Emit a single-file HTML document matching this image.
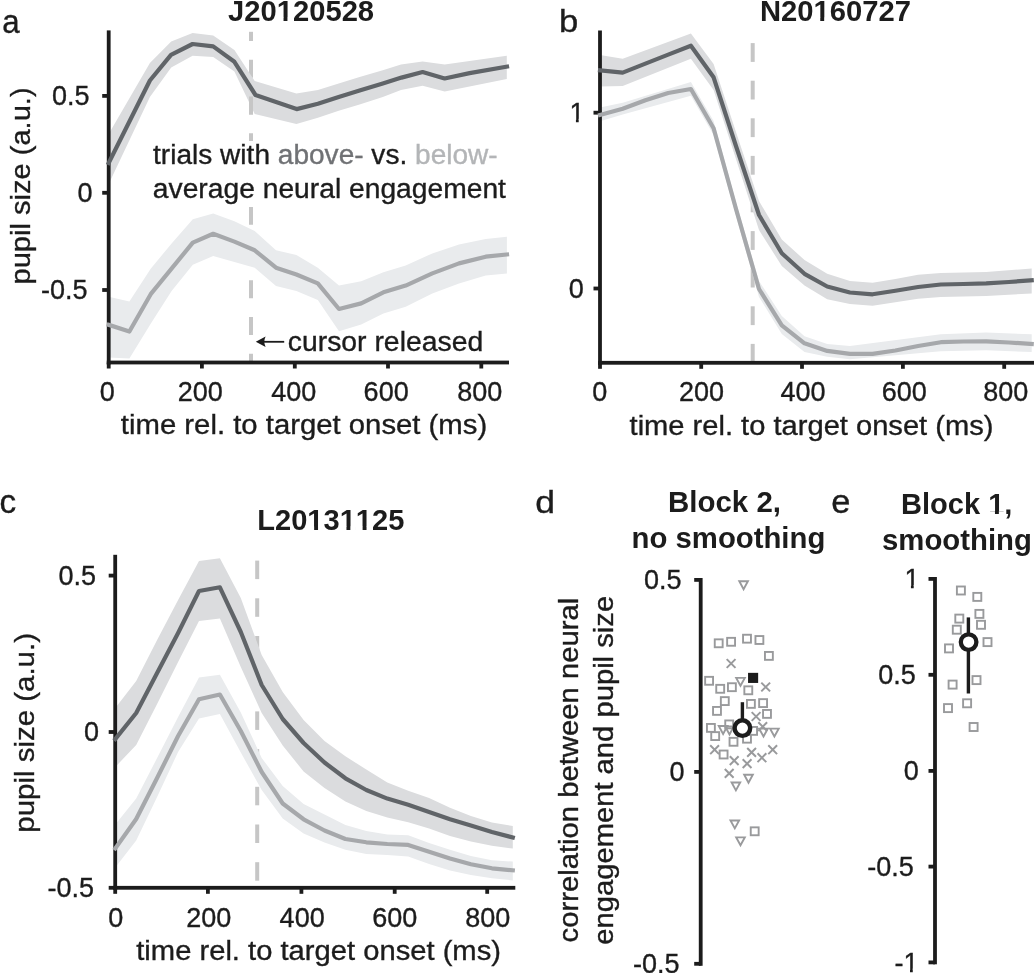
<!DOCTYPE html>
<html><head><meta charset="utf-8"><style>
html,body{margin:0;padding:0;background:#fff;}
svg{display:block;will-change:transform;filter:blur(0.4px);}
text{font-family:"Liberation Sans",sans-serif;font-kerning:none;}
</style></head><body>
<svg width="1034" height="973" viewBox="0 0 1034 973">
<rect width="1034" height="973" fill="#fff"/>
<rect x="249.00" y="31.80" width="4" height="9.20" fill="#c6c6c6"/>
<rect x="249.00" y="59.75" width="4" height="18.00" fill="#c6c6c6"/>
<rect x="249.00" y="96.50" width="4" height="18.00" fill="#c6c6c6"/>
<rect x="249.00" y="133.25" width="4" height="18.00" fill="#c6c6c6"/>
<rect x="249.00" y="206.75" width="4" height="18.00" fill="#c6c6c6"/>
<rect x="249.00" y="243.50" width="4" height="18.00" fill="#c6c6c6"/>
<rect x="249.00" y="280.25" width="4" height="18.00" fill="#c6c6c6"/>
<rect x="249.00" y="317.00" width="4" height="18.00" fill="#c6c6c6"/>
<rect x="249.00" y="353.75" width="4" height="8.25" fill="#c6c6c6"/>
<polygon points="108.7,134.0 149.9,62.9 171.2,41.6 192.6,33.0 213.2,35.6 234.4,50.1 254.7,81.1 296.4,93.4 317.9,89.9 338.7,83.5 359.6,77.1 382.8,70.2 401.0,64.4 422.6,61.5 444.7,64.4 506.8,55.7 506.8,78.9 444.7,91.6 422.6,85.8 401.0,89.9 382.8,96.9 359.6,104.4 338.7,110.8 317.9,117.8 296.4,124.1 254.7,114.0 234.4,71.4 213.2,57.0 192.6,55.8 171.2,67.5 149.9,97.0 108.7,184.0" fill="#dbdcde"/>
<polygon points="108.7,296.7 129.4,301.5 150.7,268.7 171.6,243.5 192.8,219.3 213.2,213.5 234.4,221.3 254.7,231.0 276.0,250.3 296.4,255.0 317.8,267.8 339.0,285.6 361.2,281.2 383.4,272.3 405.7,265.6 432.3,253.4 459.0,244.5 485.7,238.9 506.9,236.7 506.9,273.4 485.7,275.6 459.0,283.4 432.3,293.4 405.7,306.7 383.4,313.4 361.2,324.5 339.0,331.2 317.8,300.0 296.4,291.0 276.0,286.0 254.7,267.7 234.4,261.9 213.2,256.0 192.8,264.8 171.6,291.0 150.7,323.8 129.4,358.6 108.7,357.6" fill="#e9ebed"/>
<rect x="249" y="96.5" width="4" height="18" fill="#c6c6c6"/>
<rect x="150" y="141" width="360" height="66" fill="#fff"/>
<rect x="106.80" y="30.40" width="3.8" height="334.00" fill="#1c1c1c"/>
<rect x="102.20" y="94.00" width="6.50" height="3.8" fill="#1c1c1c"/>
<rect x="102.20" y="190.90" width="6.50" height="3.8" fill="#1c1c1c"/>
<rect x="102.20" y="288.10" width="6.50" height="3.8" fill="#1c1c1c"/>
<rect x="106.80" y="360.60" width="402.20" height="3.8" fill="#1c1c1c"/>
<rect x="106.80" y="362.50" width="3.8" height="6.00" fill="#1c1c1c"/>
<rect x="200.00" y="362.50" width="3.8" height="6.00" fill="#1c1c1c"/>
<rect x="292.90" y="362.50" width="3.8" height="6.00" fill="#1c1c1c"/>
<rect x="386.10" y="362.50" width="3.8" height="6.00" fill="#1c1c1c"/>
<rect x="479.40" y="362.50" width="3.8" height="6.00" fill="#1c1c1c"/>
<polyline points="108.7,163.0 149.9,80.5 171.0,54.8 192.6,44.0 213.2,46.4 234.4,61.8 255.5,95.0 296.6,109.1 317.9,103.8 338.7,96.9 359.6,90.5 382.8,83.5 401.5,77.6 422.6,72.0 444.6,78.5 469.6,73.1 507.0,66.6" fill="none" stroke="#606468" stroke-width="4.2" stroke-linejoin="round" stroke-linecap="square"/>
<polyline points="108.7,324.8 129.4,331.5 150.7,294.2 192.8,242.6 213.2,233.8 234.4,241.6 254.7,250.3 276.0,267.7 296.4,274.5 317.8,283.4 339.0,309.0 361.2,303.4 383.4,292.3 405.7,285.6 432.3,273.4 459.0,263.4 485.7,256.7 507.0,254.5" fill="none" stroke="#a6a8ab" stroke-width="4.2" stroke-linejoin="round" stroke-linecap="square"/>
<rect x="750.70" y="43.10" width="4" height="18.80" fill="#c6c6c6"/>
<rect x="750.70" y="80.70" width="4" height="18.80" fill="#c6c6c6"/>
<rect x="750.70" y="118.30" width="4" height="18.80" fill="#c6c6c6"/>
<rect x="750.70" y="155.90" width="4" height="18.80" fill="#c6c6c6"/>
<rect x="750.70" y="193.50" width="4" height="18.80" fill="#c6c6c6"/>
<rect x="750.70" y="231.10" width="4" height="18.80" fill="#c6c6c6"/>
<rect x="750.70" y="268.70" width="4" height="18.80" fill="#c6c6c6"/>
<rect x="750.70" y="306.30" width="4" height="18.80" fill="#c6c6c6"/>
<rect x="750.70" y="343.90" width="4" height="18.80" fill="#c6c6c6"/>
<polygon points="600.0,55.0 622.7,58.7 690.9,33.5 713.6,64.0 736.3,133.0 759.0,201.0 781.8,239.6 804.5,260.0 827.2,273.8 849.9,281.0 872.6,282.7 895.4,279.1 918.1,274.7 940.8,272.9 986.2,272.0 1031.7,268.5 1031.7,293.4 986.2,296.0 940.8,297.0 918.1,298.7 895.4,302.3 872.6,305.8 849.9,304.0 827.2,299.2 804.5,285.5 781.8,266.0 759.0,230.0 736.3,160.0 713.6,90.0 690.9,58.7 622.7,85.9 600.0,86.6" fill="#dbdcde"/>
<polygon points="600.0,107.4 622.7,102.8 690.9,81.9 713.6,121.0 736.3,203.0 759.0,281.0 781.8,316.0 804.5,336.3 827.2,344.0 849.9,345.9 940.8,334.3 986.2,332.5 1031.7,334.3 1031.7,352.1 986.2,350.3 940.8,351.2 849.9,359.2 827.2,356.8 804.5,351.9 781.8,334.0 759.0,297.0 736.3,217.0 713.6,135.0 690.9,95.8 622.7,114.4 600.0,121.3" fill="#e9ebed"/>
<rect x="598.10" y="30.50" width="3.8" height="334.20" fill="#1c1c1c"/>
<rect x="593.50" y="110.80" width="6.50" height="3.8" fill="#1c1c1c"/>
<rect x="593.50" y="286.60" width="6.50" height="3.8" fill="#1c1c1c"/>
<rect x="598.10" y="360.90" width="435.90" height="3.8" fill="#1c1c1c"/>
<rect x="598.10" y="362.80" width="3.8" height="6.00" fill="#1c1c1c"/>
<rect x="699.30" y="362.80" width="3.8" height="6.00" fill="#1c1c1c"/>
<rect x="800.10" y="362.80" width="3.8" height="6.00" fill="#1c1c1c"/>
<rect x="901.00" y="362.80" width="3.8" height="6.00" fill="#1c1c1c"/>
<rect x="1002.30" y="362.80" width="3.8" height="6.00" fill="#1c1c1c"/>
<polyline points="600.0,70.3 622.7,72.6 645.4,63.6 668.2,54.6 690.9,45.7 713.6,77.3 736.3,147.0 759.0,215.0 781.8,253.3 804.5,273.8 827.2,286.5 849.9,292.5 872.6,294.3 895.4,290.7 918.1,287.0 940.8,284.5 963.5,284.0 986.2,283.4 1009.0,282.0 1031.7,280.2" fill="none" stroke="#606468" stroke-width="4.2" stroke-linejoin="round" stroke-linecap="square"/>
<polyline points="600.0,115.0 622.7,108.8 645.4,100.2 668.2,93.0 690.9,89.0 713.6,128.2 736.3,210.0 759.0,289.0 781.8,325.3 804.5,343.3 827.2,350.9 849.9,353.9 872.6,353.9 895.4,350.5 918.1,346.0 940.8,342.2 963.5,341.5 986.2,341.4 1009.0,342.5 1031.7,344.0" fill="none" stroke="#a6a8ab" stroke-width="4.2" stroke-linejoin="round" stroke-linecap="square"/>
<rect x="255.20" y="560.60" width="4" height="18.50" fill="#c6c6c6"/>
<rect x="255.20" y="598.30" width="4" height="18.50" fill="#c6c6c6"/>
<rect x="255.20" y="636.00" width="4" height="18.50" fill="#c6c6c6"/>
<rect x="255.20" y="673.70" width="4" height="18.50" fill="#c6c6c6"/>
<rect x="255.20" y="711.40" width="4" height="18.50" fill="#c6c6c6"/>
<rect x="255.20" y="749.10" width="4" height="18.50" fill="#c6c6c6"/>
<rect x="255.20" y="786.80" width="4" height="18.50" fill="#c6c6c6"/>
<rect x="255.20" y="824.50" width="4" height="18.50" fill="#c6c6c6"/>
<rect x="255.20" y="862.20" width="4" height="18.50" fill="#c6c6c6"/>
<polygon points="115.3,708.0 136.2,681.0 157.1,640.0 178.1,600.0 199.0,561.0 219.9,558.3 240.8,598.0 261.7,655.0 282.7,692.0 303.6,720.0 324.5,741.0 345.4,756.2 366.3,769.6 387.3,782.5 408.2,790.8 429.1,798.0 450.0,807.8 470.9,815.9 491.9,822.6 512.8,826.0 512.8,848.5 491.9,845.8 470.9,841.6 450.0,836.0 429.1,828.6 408.2,822.2 387.3,817.6 366.3,811.0 345.4,801.5 324.5,788.0 303.6,771.5 282.7,745.5 261.7,713.0 240.8,667.0 219.9,618.5 199.0,621.0 178.1,662.0 157.1,704.0 136.2,745.0 115.3,767.0" fill="#dbdcde"/>
<polygon points="115.3,824.6 136.2,798.6 157.1,758.0 178.1,717.0 199.0,677.6 219.9,674.8 240.8,712.5 261.7,758.0 282.7,786.0 303.6,804.0 324.5,814.5 345.4,825.0 366.3,831.0 387.3,834.5 408.2,835.3 429.1,843.0 450.0,849.7 470.9,856.1 491.9,860.2 512.8,861.6 512.8,880.4 491.9,878.3 470.9,875.0 450.0,870.6 429.1,864.0 408.2,856.4 387.3,855.0 366.3,854.0 345.4,849.8 324.5,842.5 303.6,833.5 282.7,818.5 261.7,790.0 240.8,752.5 219.9,713.9 199.0,718.4 178.1,752.0 157.1,797.0 136.2,840.5 115.3,867.6" fill="#e9ebed"/>
<rect x="113.30" y="554.80" width="3.8" height="334.90" fill="#1c1c1c"/>
<rect x="108.70" y="573.70" width="6.50" height="3.8" fill="#1c1c1c"/>
<rect x="108.70" y="730.10" width="6.50" height="3.8" fill="#1c1c1c"/>
<rect x="108.70" y="885.90" width="6.50" height="3.8" fill="#1c1c1c"/>
<rect x="113.30" y="885.90" width="402.00" height="3.8" fill="#1c1c1c"/>
<rect x="113.30" y="887.80" width="3.8" height="6.00" fill="#1c1c1c"/>
<rect x="206.00" y="887.80" width="3.8" height="6.00" fill="#1c1c1c"/>
<rect x="299.50" y="887.80" width="3.8" height="6.00" fill="#1c1c1c"/>
<rect x="392.80" y="887.80" width="3.8" height="6.00" fill="#1c1c1c"/>
<rect x="485.30" y="887.80" width="3.8" height="6.00" fill="#1c1c1c"/>
<polyline points="115.3,739.0 136.2,713.0 157.1,673.0 178.1,633.0 199.0,591.0 219.9,587.3 240.8,632.0 261.7,685.0 282.7,719.0 303.6,743.0 324.5,762.5 345.4,778.3 366.3,790.0 387.3,798.6 408.2,804.7 429.1,811.9 450.0,819.2 470.9,825.4 491.9,832.0 512.8,837.5" fill="none" stroke="#606468" stroke-width="4.2" stroke-linejoin="round" stroke-linecap="square"/>
<polyline points="115.3,848.4 136.2,819.0 157.1,778.0 178.1,736.0 199.0,699.3 219.9,694.5 240.8,731.0 261.7,772.0 282.7,803.5 303.6,819.3 324.5,830.5 345.4,839.0 366.3,842.3 387.3,844.0 408.2,844.9 429.1,851.7 450.0,858.4 470.9,864.2 491.9,868.3 512.8,870.3" fill="none" stroke="#a6a8ab" stroke-width="4.2" stroke-linejoin="round" stroke-linecap="square"/>
<rect x="698.80" y="578.00" width="3.8" height="387.80" fill="#1c1c1c"/>
<rect x="694.20" y="578.00" width="6.50" height="3.8" fill="#1c1c1c"/>
<rect x="694.20" y="770.00" width="6.50" height="3.8" fill="#1c1c1c"/>
<rect x="694.20" y="961.90" width="6.50" height="3.8" fill="#1c1c1c"/>
<rect x="933.10" y="577.00" width="3.8" height="387.30" fill="#1c1c1c"/>
<rect x="928.50" y="577.00" width="6.50" height="3.8" fill="#1c1c1c"/>
<rect x="928.50" y="672.90" width="6.50" height="3.8" fill="#1c1c1c"/>
<rect x="928.50" y="769.00" width="6.50" height="3.8" fill="#1c1c1c"/>
<rect x="928.50" y="864.70" width="6.50" height="3.8" fill="#1c1c1c"/>
<rect x="928.50" y="960.50" width="6.50" height="3.8" fill="#1c1c1c"/>
<rect x="714.75" y="639.35" width="7.9" height="7.9" fill="none" stroke="#999a9c" stroke-width="1.9"/>
<rect x="727.15" y="637.85" width="7.9" height="7.9" fill="none" stroke="#999a9c" stroke-width="1.9"/>
<rect x="743.05" y="634.75" width="7.9" height="7.9" fill="none" stroke="#999a9c" stroke-width="1.9"/>
<rect x="755.45" y="636.05" width="7.9" height="7.9" fill="none" stroke="#999a9c" stroke-width="1.9"/>
<rect x="764.95" y="651.95" width="7.9" height="7.9" fill="none" stroke="#999a9c" stroke-width="1.9"/>
<rect x="705.15" y="676.85" width="7.9" height="7.9" fill="none" stroke="#999a9c" stroke-width="1.9"/>
<rect x="716.25" y="684.85" width="7.9" height="7.9" fill="none" stroke="#999a9c" stroke-width="1.9"/>
<rect x="727.95" y="683.25" width="7.9" height="7.9" fill="none" stroke="#999a9c" stroke-width="1.9"/>
<rect x="744.35" y="686.35" width="7.9" height="7.9" fill="none" stroke="#999a9c" stroke-width="1.9"/>
<rect x="720.85" y="697.15" width="7.9" height="7.9" fill="none" stroke="#999a9c" stroke-width="1.9"/>
<rect x="713.05" y="706.95" width="7.9" height="7.9" fill="none" stroke="#999a9c" stroke-width="1.9"/>
<rect x="746.95" y="699.95" width="7.9" height="7.9" fill="none" stroke="#999a9c" stroke-width="1.9"/>
<rect x="759.15" y="699.15" width="7.9" height="7.9" fill="none" stroke="#999a9c" stroke-width="1.9"/>
<rect x="763.05" y="709.95" width="7.9" height="7.9" fill="none" stroke="#999a9c" stroke-width="1.9"/>
<rect x="706.95" y="723.95" width="7.9" height="7.9" fill="none" stroke="#999a9c" stroke-width="1.9"/>
<rect x="725.25" y="720.45" width="7.9" height="7.9" fill="none" stroke="#999a9c" stroke-width="1.9"/>
<rect x="711.25" y="732.15" width="7.9" height="7.9" fill="none" stroke="#999a9c" stroke-width="1.9"/>
<rect x="729.55" y="737.85" width="7.9" height="7.9" fill="none" stroke="#999a9c" stroke-width="1.9"/>
<rect x="743.05" y="734.75" width="7.9" height="7.9" fill="none" stroke="#999a9c" stroke-width="1.9"/>
<rect x="749.15" y="726.95" width="7.9" height="7.9" fill="none" stroke="#999a9c" stroke-width="1.9"/>
<rect x="719.65" y="750.55" width="7.9" height="7.9" fill="none" stroke="#999a9c" stroke-width="1.9"/>
<rect x="750.75" y="827.35" width="7.9" height="7.9" fill="none" stroke="#999a9c" stroke-width="1.9"/>
<polygon points="739.30,581.25 747.90,581.25 743.60,589.15" fill="none" stroke="#999a9c" stroke-width="1.9" stroke-linejoin="miter"/>
<polygon points="736.20,677.85 744.80,677.85 740.50,685.75" fill="none" stroke="#999a9c" stroke-width="1.9" stroke-linejoin="miter"/>
<polygon points="718.80,726.05 727.40,726.05 723.10,733.95" fill="none" stroke="#999a9c" stroke-width="1.9" stroke-linejoin="miter"/>
<polygon points="725.20,726.55 733.80,726.55 729.50,734.45" fill="none" stroke="#999a9c" stroke-width="1.9" stroke-linejoin="miter"/>
<polygon points="759.20,728.65 767.80,728.65 763.50,736.55" fill="none" stroke="#999a9c" stroke-width="1.9" stroke-linejoin="miter"/>
<polygon points="770.10,728.65 778.70,728.65 774.40,736.55" fill="none" stroke="#999a9c" stroke-width="1.9" stroke-linejoin="miter"/>
<polygon points="744.20,774.75 752.80,774.75 748.50,782.65" fill="none" stroke="#999a9c" stroke-width="1.9" stroke-linejoin="miter"/>
<polygon points="731.60,782.45 740.20,782.45 735.90,790.35" fill="none" stroke="#999a9c" stroke-width="1.9" stroke-linejoin="miter"/>
<polygon points="730.50,820.45 739.10,820.45 734.80,828.35" fill="none" stroke="#999a9c" stroke-width="1.9" stroke-linejoin="miter"/>
<polygon points="736.20,837.35 744.80,837.35 740.50,845.25" fill="none" stroke="#999a9c" stroke-width="1.9" stroke-linejoin="miter"/>
<path d="M726.70,659.10L735.50,667.90M735.50,659.10L726.70,667.90" stroke="#999a9c" stroke-width="2.0" fill="none"/>
<path d="M761.30,682.60L770.10,691.40M770.10,682.60L761.30,691.40" stroke="#999a9c" stroke-width="2.0" fill="none"/>
<path d="M751.70,712.10L760.50,720.90M760.50,712.10L751.70,720.90" stroke="#999a9c" stroke-width="2.0" fill="none"/>
<path d="M758.30,722.20L767.10,731.00M767.10,722.20L758.30,731.00" stroke="#999a9c" stroke-width="2.0" fill="none"/>
<path d="M710.20,745.30L719.00,754.10M719.00,745.30L710.20,754.10" stroke="#999a9c" stroke-width="2.0" fill="none"/>
<path d="M747.20,748.00L756.00,756.80M756.00,748.00L747.20,756.80" stroke="#999a9c" stroke-width="2.0" fill="none"/>
<path d="M768.30,745.30L777.10,754.10M777.10,745.30L768.30,754.10" stroke="#999a9c" stroke-width="2.0" fill="none"/>
<path d="M729.80,756.20L738.60,765.00M738.60,756.20L729.80,765.00" stroke="#999a9c" stroke-width="2.0" fill="none"/>
<path d="M757.50,753.30L766.30,762.10M766.30,753.30L757.50,762.10" stroke="#999a9c" stroke-width="2.0" fill="none"/>
<path d="M742.70,759.20L751.50,768.00M751.50,759.20L742.70,768.00" stroke="#999a9c" stroke-width="2.0" fill="none"/>
<path d="M724.80,769.00L733.60,777.80M733.60,769.00L724.80,777.80" stroke="#999a9c" stroke-width="2.0" fill="none"/>
<rect x="749.00" y="673.80" width="8.2" height="8.2" fill="#1c1c1c" stroke="#1c1c1c" stroke-width="1.9"/>
<line x1="742.4" y1="702.2" x2="742.4" y2="735" stroke="#1c1c1c" stroke-width="3.4"/>
<circle cx="742.4" cy="728.1" r="7.8" fill="#fff" stroke="#1c1c1c" stroke-width="4.4"/>
<rect x="956.90" y="586.50" width="8.0" height="8.0" fill="none" stroke="#999a9c" stroke-width="1.9"/>
<rect x="973.30" y="592.90" width="8.0" height="8.0" fill="none" stroke="#999a9c" stroke-width="1.9"/>
<rect x="975.40" y="609.90" width="8.0" height="8.0" fill="none" stroke="#999a9c" stroke-width="1.9"/>
<rect x="955.30" y="614.60" width="8.0" height="8.0" fill="none" stroke="#999a9c" stroke-width="1.9"/>
<rect x="977.00" y="620.80" width="8.0" height="8.0" fill="none" stroke="#999a9c" stroke-width="1.9"/>
<rect x="952.80" y="625.70" width="8.0" height="8.0" fill="none" stroke="#999a9c" stroke-width="1.9"/>
<rect x="983.50" y="638.10" width="8.0" height="8.0" fill="none" stroke="#999a9c" stroke-width="1.9"/>
<rect x="945.00" y="644.40" width="8.0" height="8.0" fill="none" stroke="#999a9c" stroke-width="1.9"/>
<rect x="972.50" y="676.10" width="8.0" height="8.0" fill="none" stroke="#999a9c" stroke-width="1.9"/>
<rect x="948.60" y="680.60" width="8.0" height="8.0" fill="none" stroke="#999a9c" stroke-width="1.9"/>
<rect x="963.10" y="699.30" width="8.0" height="8.0" fill="none" stroke="#999a9c" stroke-width="1.9"/>
<rect x="944.00" y="704.10" width="8.0" height="8.0" fill="none" stroke="#999a9c" stroke-width="1.9"/>
<rect x="969.60" y="723.00" width="8.0" height="8.0" fill="none" stroke="#999a9c" stroke-width="1.9"/>
<line x1="968.4" y1="617.4" x2="968.4" y2="693.5" stroke="#1c1c1c" stroke-width="3.4"/>
<circle cx="968.6" cy="642.1" r="7.8" fill="#fff" stroke="#1c1c1c" stroke-width="4.3"/>
<text x="2.15" y="32.60" font-size="32.5" fill="#1c1c1c" stroke="#1c1c1c" stroke-width="0.35" textLength="17.39" lengthAdjust="spacingAndGlyphs">a</text>
<text x="558.95" y="32.30" font-size="31.5" fill="#1c1c1c" stroke="#1c1c1c" stroke-width="0.35" textLength="19.28" lengthAdjust="spacingAndGlyphs">b</text>
<text x="-0.53" y="513.40" font-size="32.5" fill="#1c1c1c" stroke="#1c1c1c" stroke-width="0.35" textLength="16.67" lengthAdjust="spacingAndGlyphs">c</text>
<text x="535.18" y="512.80" font-size="31.5" fill="#1c1c1c" stroke="#1c1c1c" stroke-width="0.35" textLength="19.77" lengthAdjust="spacingAndGlyphs">d</text>
<text x="831.22" y="513.40" font-size="32.5" fill="#1c1c1c" stroke="#1c1c1c" stroke-width="0.35" textLength="19.17" lengthAdjust="spacingAndGlyphs">e</text>
<text x="228.06" y="20.80" font-size="29" font-weight="bold" fill="#1c1c1c" stroke="#1c1c1c" stroke-width="0" textLength="146.03" lengthAdjust="spacingAndGlyphs">J20120528</text>
<text x="759.90" y="20.80" font-size="29" font-weight="bold" fill="#1c1c1c" stroke="#1c1c1c" stroke-width="0" textLength="151.01" lengthAdjust="spacingAndGlyphs">N20160727</text>
<text x="257.29" y="529.80" font-size="29" font-weight="bold" fill="#1c1c1c" stroke="#1c1c1c" stroke-width="0" textLength="147.05" lengthAdjust="spacingAndGlyphs">L20131125</text>
<text x="667.99" y="512.40" font-size="29" font-weight="bold" fill="#1c1c1c" stroke="#1c1c1c" stroke-width="0" textLength="112.98" lengthAdjust="spacingAndGlyphs">Block 2,</text>
<text x="631.60" y="547.60" font-size="29" font-weight="bold" fill="#1c1c1c" stroke="#1c1c1c" stroke-width="0" textLength="193.71" lengthAdjust="spacingAndGlyphs">no smoothing</text>
<text x="901.01" y="514.40" font-size="29" font-weight="bold" fill="#1c1c1c" stroke="#1c1c1c" stroke-width="0" textLength="111.42" lengthAdjust="spacingAndGlyphs">Block 1,</text>
<text x="882.07" y="549.60" font-size="29" font-weight="bold" fill="#1c1c1c" stroke="#1c1c1c" stroke-width="0" textLength="149.85" lengthAdjust="spacingAndGlyphs">smoothing</text>
<text x="153.08" y="164.40" font-size="27" fill="#1c1c1c" stroke="#1c1c1c" stroke-width="0.35" textLength="344.61" lengthAdjust="spacingAndGlyphs"><tspan fill="#1c1c1c" stroke="#1c1c1c">trials with </tspan><tspan fill="#707275" stroke="#707275">above-</tspan><tspan fill="#1c1c1c" stroke="#1c1c1c"> vs. </tspan><tspan fill="#b3b5b7" stroke="#b3b5b7">below-</tspan></text>
<text x="152.87" y="197.70" font-size="27" fill="#1c1c1c" stroke="#1c1c1c" stroke-width="0.35" textLength="353.10" lengthAdjust="spacingAndGlyphs">average neural engagement</text>
<text x="287.77" y="350.60" font-size="27" fill="#1c1c1c" stroke="#1c1c1c" stroke-width="0.35" textLength="195.44" lengthAdjust="spacingAndGlyphs">cursor released</text>
<path d="M284.2,341.8 L262,341.8" stroke="#1c1c1c" stroke-width="1.8"/>
<path d="M255.8,341.8 L265.6,336.6 Q263,341.8 265.6,347 Z" fill="#1c1c1c"/>
<text x="120.86" y="434.30" font-size="27" fill="#1c1c1c" stroke="#1c1c1c" stroke-width="0.35" textLength="366.32" lengthAdjust="spacingAndGlyphs">time rel. to target onset (ms)</text>
<text x="629.56" y="435.00" font-size="27" fill="#1c1c1c" stroke="#1c1c1c" stroke-width="0.35" textLength="363.90" lengthAdjust="spacingAndGlyphs">time rel. to target onset (ms)</text>
<text x="136.26" y="959.80" font-size="27" fill="#1c1c1c" stroke="#1c1c1c" stroke-width="0.35" textLength="364.71" lengthAdjust="spacingAndGlyphs">time rel. to target onset (ms)</text>
<text transform="translate(29.70,284.49) rotate(-90)" x="0" y="0" font-size="27" fill="#1c1c1c" stroke="#1c1c1c" stroke-width="0.35" textLength="197.06" lengthAdjust="spacingAndGlyphs">pupil size (a.u.)</text>
<text transform="translate(33.60,832.71) rotate(-90)" x="0" y="0" font-size="27" fill="#1c1c1c" stroke="#1c1c1c" stroke-width="0.35" textLength="199.71" lengthAdjust="spacingAndGlyphs">pupil size (a.u.)</text>
<text transform="translate(577.50,942.47) rotate(-90)" x="0" y="0" font-size="27" fill="#1c1c1c" stroke="#1c1c1c" stroke-width="0.35" textLength="344.69" lengthAdjust="spacingAndGlyphs">correlation between neural</text>
<text transform="translate(613.40,944.77) rotate(-90)" x="0" y="0" font-size="27" fill="#1c1c1c" stroke="#1c1c1c" stroke-width="0.35" textLength="348.88" lengthAdjust="spacingAndGlyphs">engagement and pupil size</text>
<text x="52.05" y="105.20" font-size="27" fill="#1c1c1c" stroke="#1c1c1c" stroke-width="0.35">0.5</text>
<text x="77.56" y="202.10" font-size="27" fill="#1c1c1c" stroke="#1c1c1c" stroke-width="0.35">0</text>
<text x="40.94" y="299.30" font-size="27" fill="#1c1c1c" stroke="#1c1c1c" stroke-width="0.35">-0.5</text>
<text x="99.64" y="400.70" font-size="27" fill="#1c1c1c" stroke="#1c1c1c" stroke-width="0.35">0</text>
<text x="177.72" y="400.70" font-size="27" fill="#1c1c1c" stroke="#1c1c1c" stroke-width="0.35">200</text>
<text x="271.23" y="400.70" font-size="27" fill="#1c1c1c" stroke="#1c1c1c" stroke-width="0.35">400</text>
<text x="363.62" y="400.70" font-size="27" fill="#1c1c1c" stroke="#1c1c1c" stroke-width="0.35">600</text>
<text x="457.19" y="400.70" font-size="27" fill="#1c1c1c" stroke="#1c1c1c" stroke-width="0.35">800</text>
<text x="569.40" y="122.00" font-size="27" fill="#1c1c1c" stroke="#1c1c1c" stroke-width="0.35">1</text>
<text x="568.86" y="297.80" font-size="27" fill="#1c1c1c" stroke="#1c1c1c" stroke-width="0.35">0</text>
<text x="592.24" y="400.70" font-size="27" fill="#1c1c1c" stroke="#1c1c1c" stroke-width="0.35">0</text>
<text x="679.02" y="400.70" font-size="27" fill="#1c1c1c" stroke="#1c1c1c" stroke-width="0.35">200</text>
<text x="780.43" y="400.70" font-size="27" fill="#1c1c1c" stroke="#1c1c1c" stroke-width="0.35">400</text>
<text x="881.82" y="400.70" font-size="27" fill="#1c1c1c" stroke="#1c1c1c" stroke-width="0.35">600</text>
<text x="983.19" y="400.70" font-size="27" fill="#1c1c1c" stroke="#1c1c1c" stroke-width="0.35">800</text>
<text x="58.55" y="584.90" font-size="27" fill="#1c1c1c" stroke="#1c1c1c" stroke-width="0.35">0.5</text>
<text x="84.06" y="741.30" font-size="27" fill="#1c1c1c" stroke="#1c1c1c" stroke-width="0.35">0</text>
<text x="47.44" y="897.10" font-size="27" fill="#1c1c1c" stroke="#1c1c1c" stroke-width="0.35">-0.5</text>
<text x="108.34" y="926.60" font-size="27" fill="#1c1c1c" stroke="#1c1c1c" stroke-width="0.35">0</text>
<text x="186.22" y="926.60" font-size="27" fill="#1c1c1c" stroke="#1c1c1c" stroke-width="0.35">200</text>
<text x="279.62" y="926.60" font-size="27" fill="#1c1c1c" stroke="#1c1c1c" stroke-width="0.35">400</text>
<text x="372.32" y="926.60" font-size="27" fill="#1c1c1c" stroke="#1c1c1c" stroke-width="0.35">600</text>
<text x="465.19" y="926.60" font-size="27" fill="#1c1c1c" stroke="#1c1c1c" stroke-width="0.35">800</text>
<text x="644.05" y="589.20" font-size="27" fill="#1c1c1c" stroke="#1c1c1c" stroke-width="0.35">0.5</text>
<text x="669.56" y="781.20" font-size="27" fill="#1c1c1c" stroke="#1c1c1c" stroke-width="0.35">0</text>
<text x="632.94" y="973.10" font-size="27" fill="#1c1c1c" stroke="#1c1c1c" stroke-width="0.35">-0.5</text>
<text x="904.40" y="588.20" font-size="27" fill="#1c1c1c" stroke="#1c1c1c" stroke-width="0.35">1</text>
<text x="878.35" y="684.10" font-size="27" fill="#1c1c1c" stroke="#1c1c1c" stroke-width="0.35">0.5</text>
<text x="903.86" y="780.20" font-size="27" fill="#1c1c1c" stroke="#1c1c1c" stroke-width="0.35">0</text>
<text x="867.24" y="875.90" font-size="27" fill="#1c1c1c" stroke="#1c1c1c" stroke-width="0.35">-0.5</text>
<text x="894.50" y="971.70" font-size="27" fill="#1c1c1c" stroke="#1c1c1c" stroke-width="0.35">-1</text>
<rect x="276.73" y="17.61" width="6.80" height="5.22" fill="#fff"/>
<rect x="287.44" y="17.61" width="5.52" height="5.22" fill="#fff"/>
<rect x="813.45" y="17.61" width="6.81" height="5.22" fill="#fff"/>
<rect x="824.18" y="17.61" width="5.52" height="5.22" fill="#fff"/>
<rect x="307.36" y="526.61" width="6.78" height="5.22" fill="#fff"/>
<rect x="318.04" y="526.61" width="5.50" height="5.22" fill="#fff"/>
<rect x="339.68" y="526.61" width="6.78" height="5.22" fill="#fff"/>
<rect x="350.35" y="526.61" width="5.50" height="5.22" fill="#fff"/>
<rect x="355.83" y="526.61" width="6.78" height="5.22" fill="#fff"/>
<rect x="366.52" y="526.61" width="5.50" height="5.22" fill="#fff"/>
<rect x="988.18" y="511.21" width="6.78" height="5.22" fill="#fff"/>
<rect x="998.87" y="511.21" width="5.50" height="5.22" fill="#fff"/>
<rect x="569.40" y="118.81" width="6.52" height="5.35" fill="#fff"/>
<rect x="578.70" y="118.81" width="5.73" height="5.35" fill="#fff"/>
<rect x="904.40" y="585.01" width="6.52" height="5.35" fill="#fff"/>
<rect x="913.70" y="585.01" width="5.73" height="5.35" fill="#fff"/>
<rect x="903.48" y="968.51" width="6.52" height="5.35" fill="#fff"/>
<rect x="912.78" y="968.51" width="5.73" height="5.35" fill="#fff"/>
</svg></body></html>
